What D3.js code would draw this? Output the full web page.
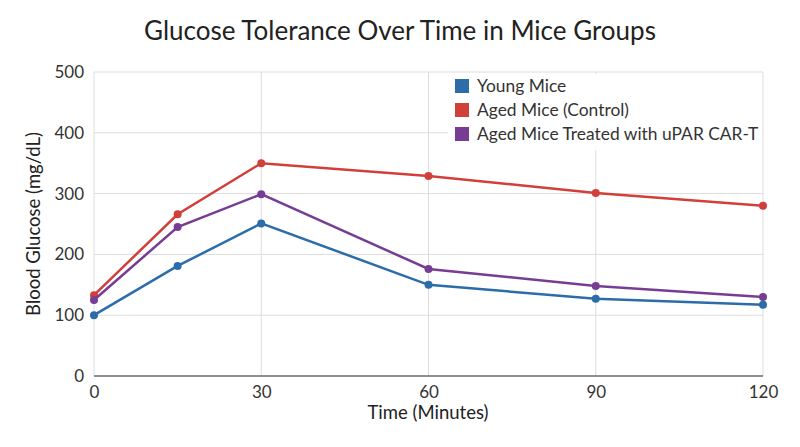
<!DOCTYPE html>
<html><head><meta charset="utf-8">
<script src="https://cdn.jsdelivr.net/npm/d3@7"></script>
<style>body{margin:0;background:#fff}text{font-family:Lato,"Open Sans",sans-serif}</style>
</head><body><svg id="c" width="800" height="447"></svg>
<script>
const times=[0,15,30,60,90,120];
const young=[100,181,251,150,127,117];
const aged=[133,266,350,329,301,280];
const treated=[125,245,299,176,148,130];
const seriesNames=["Young Mice","Aged Mice (Control)","Aged Mice Treated with uPAR CAR-T"];
const colors=["#2b6ca9","#d13f3b","#773d95"];
const xTicks=[0,30,60,90,120];
const yTicks=[0,100,200,300,400,500];
const svg=d3.select("#c");
const x=d3.scaleLinear().domain([0,120]).range([94,763]);
const y=d3.scaleLinear().domain([0,500]).range([376,72]);
const g=svg.append("g");
g.selectAll(".vg").data(xTicks).join("line").attr("x1",d=>x(d)).attr("x2",d=>x(d)).attr("y1",72).attr("y2",376).attr("stroke","#dddddd");
g.selectAll(".hg").data(yTicks).join("line").attr("x1",94).attr("x2",763).attr("y1",d=>y(d)).attr("y2",d=>y(d)).attr("stroke","#dddddd");
g.append("line").attr("x1",94).attr("x2",763).attr("y1",376).attr("y2",376).attr("stroke","#333");
const xa=svg.append("g").attr("transform","translate(0,376)").call(d3.axisBottom(x).tickValues(xTicks).tickSize(0).tickPadding(10));
xa.select(".domain").remove();
const ya=svg.append("g").attr("transform","translate(94,0)").call(d3.axisLeft(y).tickValues(yTicks).tickSize(0).tickPadding(10));
ya.select(".domain").remove();
svg.selectAll(".tick text").attr("font-size",17).attr("fill","#333").style("font-family","Lato");
svg.append("rect").attr("x",448).attr("y",74).attr("width",314).attr("height",76).attr("fill","#fff");
const all=[young,aged,treated];
const line=d3.line().x((d,i)=>x(times[i])).y(d=>y(d));
all.forEach((s,k)=>{
  svg.append("path").attr("d",line(s)).attr("fill","none").attr("stroke",colors[k]).attr("stroke-width",2.5);
  svg.selectAll(".p"+k).data(s).join("circle").attr("cx",(d,i)=>x(times[i])).attr("cy",d=>y(d)).attr("r",4).attr("fill",colors[k]);
});
seriesNames.forEach((n,k)=>{
  svg.append("rect").attr("x",455).attr("y",79+k*24).attr("width",14).attr("height",14).attr("fill",colors[k]);
  svg.append("text").attr("x",477).attr("y",92+k*24).attr("font-size",17.4).attr("fill","#333").text(n);
});
svg.append("text").attr("x",400).attr("y",40).attr("text-anchor","middle").attr("font-size",26).attr("fill","#222").text("Glucose Tolerance Over Time in Mice Groups");
svg.append("text").attr("x",428).attr("y",419).attr("text-anchor","middle").attr("font-size",18.5).attr("fill","#222").text("Time (Minutes)");
svg.append("text").attr("transform","translate(40,224) rotate(-90)").attr("text-anchor","middle").attr("font-size",18.5).attr("fill","#222").text("Blood Glucose (mg/dL)");
</script></body></html>
